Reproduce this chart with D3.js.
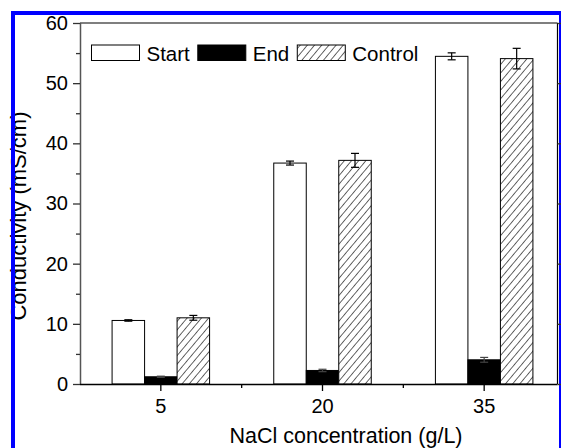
<!DOCTYPE html>
<html>
<head>
<meta charset="utf-8">
<script src="https://cdn.jsdelivr.net/npm/d3@7"></script>
<style>
  body { margin: 0; background: white; }
  svg { display: block; font-family: Arial, "Liberation Sans", sans-serif; }
</style>
</head>
<body>
<div id="chart"></div>
<script>
// Data
const categories = ["5", "20", "35"];
const series = ["Start", "End", "Control"];
const startValues = [10.56, 36.72, 54.46];
const startErrors = [0.12, 0.33, 0.58];
const endValues = [1.2, 2.25, 4.02];
const endErrors = [0.1, 0.2, 0.4];
const controlValues = [11.0, 37.17, 54.08];
const controlErrors = [0.4, 1.16, 1.71];
const yTicks = [0, 10, 20, 30, 40, 50, 60];
const yMinorTicks = [5, 15, 25, 35, 45, 55];

let width = 561, height = 448;
let margin = {top: 23, bottom: 64, left: 80, right: 4};
let plotRight = 557.5;

let svg = d3.select("#chart")
            .append("svg")
            .attr("width", width)
            .attr("height", height);

// hatch pattern for the control bars
let defs = svg.append("defs");
let pat = defs.append("pattern")
              .attr("id", "hatch")
              .attr("patternUnits", "userSpaceOnUse")
              .attr("width", 5.5)
              .attr("height", 5.5)
              .attr("patternTransform", "rotate(40)");
pat.append("rect").attr("width", 5.5).attr("height", 5.5).attr("fill", "white");
pat.append("line")
   .attr("x1", 0).attr("y1", 0).attr("x2", 0).attr("y2", 5.5)
   .attr("stroke", "black").attr("stroke-width", 1.2);

const fills = {Start: "white", End: "black", Control: "url(#hatch)"};

// rows for drawing
const rows = [];
categories.forEach((c, i) => {
  rows.push({cat: c, s: "Start", v: startValues[i], e: startErrors[i]});
  rows.push({cat: c, s: "End", v: endValues[i], e: endErrors[i]});
  rows.push({cat: c, s: "Control", v: controlValues[i], e: controlErrors[i]});
});

// scales
let y = d3.scaleLinear()
          .domain([0, 60])
          .range([height - margin.bottom, margin.top]);

let x0 = d3.scaleBand()
           .domain(categories)
           .range([margin.left, 565]);

let groupHalf = 48.75;
let x1 = d3.scaleBand()
           .domain(series)
           .range([x0.bandwidth() / 2 - groupHalf, x0.bandwidth() / 2 + groupHalf]);

// bars
let groups = svg.selectAll(".bar")
                .data(rows)
                .enter()
                .append("g")
                .attr("transform", d => `translate(${x0(d.cat)},0)`);

groups.append("rect")
      .attr("x", d => x1(d.s))
      .attr("y", d => y(d.v))
      .attr("width", x1.bandwidth())
      .attr("height", d => y(0) - y(d.v))
      .attr("fill", d => fills[d.s])
      .attr("stroke", "black")
      .attr("stroke-width", 1);

// error bars
let capW = 4;
groups.each(function(d) {
  let g = d3.select(this);
  let cx = x1(d.s) + x1.bandwidth() / 2;
  let col = d.s === "End" ? "#444" : "black";
  g.append("line")
   .attr("x1", cx).attr("x2", cx)
   .attr("y1", y(d.v + d.e)).attr("y2", y(d.v - d.e))
   .attr("stroke", col).attr("stroke-width", 1.2);
  [d.v + d.e, d.v - d.e].forEach(val => {
    g.append("line")
     .attr("x1", cx - capW).attr("x2", cx + capW)
     .attr("y1", y(val)).attr("y2", y(val))
     .attr("stroke", col).attr("stroke-width", 1.2);
  });
});

// left axis
let yaxis = svg.append("g")
               .attr("transform", `translate(${margin.left},0)`)
               .call(d3.axisLeft(y).tickValues(yTicks).tickSize(7).tickPadding(5).tickSizeOuter(0));
yaxis.select(".domain").attr("stroke", "#555").attr("stroke-width", 1.5);
yaxis.selectAll(".tick line").attr("stroke", "#333").attr("stroke-width", 1.3);
yaxis.selectAll("text").attr("font-size", 20).attr("fill", "black").attr("font-family", null);

svg.append("g")
   .attr("transform", `translate(${margin.left},0)`)
   .call(d3.axisLeft(y).tickValues(yMinorTicks).tickSize(4).tickFormat("").tickSizeOuter(0))
   .call(g => g.select(".domain").remove())
   .selectAll(".tick line").attr("stroke", "#333").attr("stroke-width", 1.3);

// bottom axis
let xaxis = svg.append("g")
               .attr("transform", `translate(0,${y(0)})`)
               .call(d3.axisBottom(x0).tickSize(7).tickPadding(8).tickSizeOuter(0));
xaxis.select(".domain").remove();
xaxis.selectAll(".tick line").attr("stroke", "black").attr("stroke-width", 1.3);
xaxis.selectAll("text").attr("font-size", 20).attr("fill", "black").attr("font-family", null);

// minor x ticks at band boundaries
svg.append("g")
   .selectAll("line")
   .data(categories.slice(1))
   .enter()
   .append("line")
   .attr("x1", d => x0(d)).attr("x2", d => x0(d))
   .attr("y1", y(0)).attr("y2", y(0) + 4)
   .attr("stroke", "black").attr("stroke-width", 1.3);

// frame lines
svg.append("line")
   .attr("x1", margin.left).attr("x2", plotRight)
   .attr("y1", y(0) + 0.5).attr("y2", y(0) + 0.5)
   .attr("stroke", "black").attr("stroke-width", 1.3);
svg.append("line")
   .attr("x1", margin.left).attr("x2", plotRight)
   .attr("y1", y(60)).attr("y2", y(60))
   .attr("stroke", "black").attr("stroke-width", 1.2);
svg.append("line")
   .attr("x1", plotRight).attr("x2", plotRight)
   .attr("y1", y(60)).attr("y2", y(0))
   .attr("stroke", "black").attr("stroke-width", 1.2);

// axis titles
svg.append("text")
   .attr("x", 346)
   .attr("y", 443)
   .attr("text-anchor", "middle")
   .attr("font-size", 21.5)
   .text("NaCl concentration (g/L)");

svg.append("text")
   .attr("x", -216)
   .attr("y", 26)
   .attr("text-anchor", "middle")
   .attr("font-size", 22)
   .attr("transform", "rotate(-90)")
   .text("Conductivity (mS/cm)");

// legend
const legend = svg.append("g").attr("transform", "translate(91.5,45)");
let lx = 0;
series.forEach(s => {
  legend.append("rect")
        .attr("x", lx)
        .attr("y", 0)
        .attr("width", 48)
        .attr("height", 15.5)
        .attr("fill", fills[s])
        .attr("stroke", "black");
  let t = legend.append("text")
                .attr("x", lx + 55)
                .attr("y", 15.5)
                .attr("font-size", 20.5)
                .text(s);
  lx += 55 + t.node().getComputedTextLength() + 8;
});

// blue selection border
svg.append("rect")
   .attr("x", 13)
   .attr("y", 13)
   .attr("width", 548)
   .attr("height", 460)
   .attr("fill", "none")
   .attr("stroke", "#0000ff")
   .attr("stroke-width", 4);

// right axis ticks (outward)
svg.append("g")
   .attr("transform", `translate(${plotRight},0)`)
   .call(d3.axisRight(y).tickValues(yTicks).tickSize(7).tickFormat("").tickSizeOuter(0))
   .call(g => g.select(".domain").remove())
   .selectAll(".tick line").attr("stroke", "#333").attr("stroke-width", 1.3);
</script>
</body>
</html>
